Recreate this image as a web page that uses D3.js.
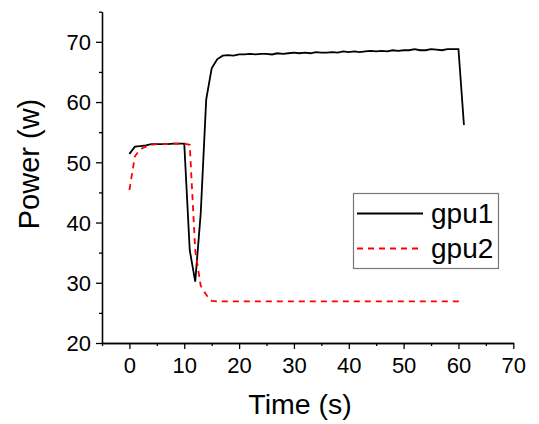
<!DOCTYPE html>
<html>
<head>
<meta charset="utf-8">
<script src="https://cdn.jsdelivr.net/npm/d3@7/dist/d3.min.js"></script>
<style>
  body { margin: 0; background: #fff; }
  svg { display: block; font-family: "Liberation Sans", Arial, sans-serif; }
  .axis path, .axis line { stroke: #000; stroke-width: 1.3; }
</style>
</head>
<body>
<div id="chart"></div>
<script>
// time in seconds, one sample per second
var time = d3.range(0, 62);

var gpu1 = [51.4, 52.6, 52.7, 52.8, 53.0, 53.0, 53.0, 53.0, 53.1, 53.1,
            53.1, 35.4, 30.2, 41.5, 60.4, 65.6, 67.1, 67.7, 67.8, 67.7,
            67.9, 67.9, 68.0, 67.9, 68.0, 68.0, 67.9, 68.1, 68.0, 68.1,
            68.2, 68.1, 68.2, 68.1, 68.3, 68.2, 68.2, 68.3, 68.2, 68.4,
            68.3, 68.4, 68.3, 68.4, 68.5, 68.4, 68.5, 68.4, 68.6, 68.5,
            68.6, 68.6, 68.8, 68.6, 68.6, 68.8, 68.7, 68.6, 68.8, 68.8,
            68.8, 56.2];

var gpu2 = [45.4, 51.0, 52.2, 52.6, 52.9, 53.0, 53.0, 53.0, 53.1, 53.1,
            53.1, 52.9, 35.4, 29.5, 28.0, 27.0, 26.9, 26.9, 26.9, 26.9,
            26.9, 26.9, 26.9, 26.9, 26.9, 26.9, 26.9, 26.9, 26.9, 26.9,
            26.9, 26.9, 26.9, 26.9, 26.9, 26.9, 26.9, 26.9, 26.9, 26.9,
            26.9, 26.9, 26.9, 26.9, 26.9, 26.9, 26.9, 26.9, 26.9, 26.9,
            26.9, 26.9, 26.9, 26.9, 26.9, 26.9, 26.9, 26.9, 26.9, 26.9,
            26.9, 26.9];

var xMajor = [0, 10, 20, 30, 40, 50, 60, 70];
var xMinor = [-5, 5, 15, 25, 35, 45, 55, 65];
var yMajor = [20, 30, 40, 50, 60, 70];
var yMinor = [25, 35, 45, 55, 65, 75];

var series = [
  { name: 'gpu1', values: gpu1, color: '#000', dash: null },
  { name: 'gpu2', values: gpu2, color: '#ff0000', dash: '6,5' }
];

var width = 539, height = 424;

var svg = d3.select('#chart').append('svg')
    .attr('width', width)
    .attr('height', height);

var x = d3.scaleLinear().domain([-5, 70]).range([102, 513.3]);
var y = d3.scaleLinear().domain([20, 75]).range([343, 11.7]);

// minor ticks
svg.append('g').attr('class', 'axis')
    .attr('transform', 'translate(0,' + y(20) + ')')
    .call(d3.axisBottom(x).tickValues(xMinor).tickSize(3).tickSizeOuter(0).tickFormat(''));
svg.append('g').attr('class', 'axis')
    .attr('transform', 'translate(' + x(-5) + ',0)')
    .call(d3.axisLeft(y).tickValues(yMinor).tickSize(3).tickSizeOuter(0).tickFormat(''));

// major ticks
var xAxis = svg.append('g').attr('class', 'axis')
    .attr('transform', 'translate(0,' + y(20) + ')')
    .call(d3.axisBottom(x).tickValues(xMajor).tickSize(6).tickSizeOuter(0));
xAxis.selectAll('text')
    .attr('font-size', 22).attr('font-family', '"Liberation Sans", Arial, sans-serif')
    .attr('fill', '#000').attr('dy', null).attr('y', 30);

var yAxis = svg.append('g').attr('class', 'axis')
    .attr('transform', 'translate(' + x(-5) + ',0)')
    .call(d3.axisLeft(y).tickValues(yMajor).tickSize(6).tickSizeOuter(0));
yAxis.selectAll('text')
    .attr('font-size', 22).attr('font-family', '"Liberation Sans", Arial, sans-serif')
    .attr('fill', '#000').attr('x', -11).attr('dy', '0.36em');

// axis titles
svg.append('text')
    .attr('x', 300).attr('y', 414)
    .attr('text-anchor', 'middle')
    .attr('font-size', 28.5)
    .text('Time (s)');

svg.append('text')
    .attr('transform', 'translate(39,164) rotate(-90)')
    .attr('text-anchor', 'middle')
    .attr('font-size', 29)
    .text('Power (w)');

// lines
var line = d3.line()
    .x(function(d, i) { return x(time[i]); })
    .y(function(d) { return y(d); });

svg.selectAll('.series')
    .data(series)
    .enter().append('path')
    .attr('class', 'series')
    .attr('d', function(s) { return line(s.values); })
    .attr('fill', 'none')
    .attr('stroke', function(s) { return s.color; })
    .attr('stroke-width', 1.8)
    .attr('stroke-dasharray', function(s) { return s.dash; });

// legend
var legend = svg.append('g');
legend.append('rect')
    .attr('x', 353.5).attr('y', 193.5)
    .attr('width', 145).attr('height', 75)
    .attr('fill', '#fff')
    .attr('stroke', '#777').attr('stroke-width', 1.2);

var item = legend.selectAll('.item')
    .data(series)
    .enter().append('g')
    .attr('class', 'item')
    .attr('transform', function(d, i) { return 'translate(0,' + (213.5 + i * 35) + ')'; });

item.append('line')
    .attr('x1', 357).attr('x2', 423)
    .attr('stroke', function(d) { return d.color; })
    .attr('stroke-width', 1.8)
    .attr('stroke-dasharray', function(d) { return d.dash; });

item.append('text')
    .attr('x', 431).attr('y', 9.5)
    .attr('font-size', 28)
    .text(function(d) { return d.name; });
</script>
</body>
</html>
